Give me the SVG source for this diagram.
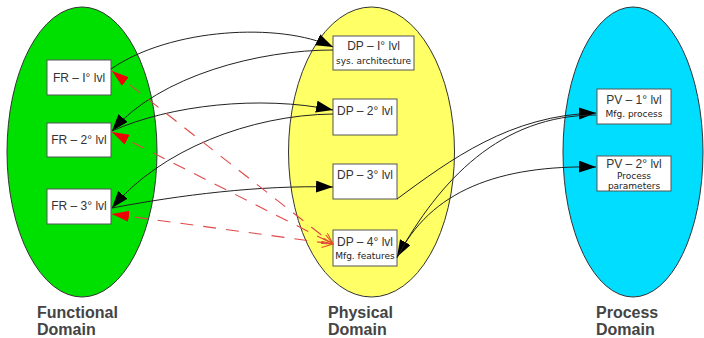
<svg xmlns="http://www.w3.org/2000/svg" width="704" height="338" viewBox="0 0 704 338">
<style>
.dom{stroke:#333;stroke-width:1}
.box{fill:#fff;stroke:#555;stroke-width:1}
.t{font-family:"Liberation Sans",Arial,sans-serif;font-size:12px;fill:#333;text-anchor:middle}
.s{font-family:"DejaVu Sans",sans-serif;font-size:9px;fill:#222;text-anchor:middle}
.lab{font-family:"Liberation Sans",Arial,sans-serif;font-size:16px;font-weight:bold;fill:#444}
.c{fill:none;stroke:#222;stroke-width:1}
.r{fill:none;stroke:#e04848;stroke-width:1.1;stroke-dasharray:13 10}
</style>
<defs>
<marker id="ah" markerUnits="userSpaceOnUse" markerWidth="20" markerHeight="14" refX="17" refY="6" orient="auto">
<path d="M0,0 L17,6 L0,12 Z" fill="#000"/>
</marker>
<marker id="rh" markerUnits="userSpaceOnUse" markerWidth="20" markerHeight="14" refX="17" refY="5.5" orient="auto-start-reverse">
<path d="M0,0 L17,5.5 L0,11 Z" fill="#f00000"/>
</marker>
<marker id="ro" markerUnits="userSpaceOnUse" markerWidth="14" markerHeight="12" refX="11" refY="5" orient="auto">
<path d="M0,0 L11,5 L0,10" fill="none" stroke="#e05020" stroke-width="1"/>
</marker>
</defs>
<rect width="704" height="338" fill="#fff"/>
<g id="functional-domain">
<ellipse class="dom" cx="82" cy="152" rx="75" ry="145" fill="#00e000"/>
<text class="lab" x="37" y="318">Functional</text>
<text class="lab" x="37" y="335">Domain</text>
</g>
<g id="physical-domain">
<ellipse class="dom" cx="371.5" cy="152" rx="83" ry="145" fill="#ffff66"/>
<text class="lab" x="328" y="318">Physical</text>
<text class="lab" x="328" y="335">Domain</text>
</g>
<g id="process-domain">
<ellipse class="dom" cx="633" cy="152" rx="70" ry="145" fill="#00ddff"/>
<text class="lab" x="596" y="318">Process</text>
<text class="lab" x="596" y="335">Domain</text>
</g>
<g id="fr1"><rect class="box" x="47" y="60" width="64" height="35"/><text class="t" x="79" y="82">FR – I° lvl</text></g>
<g id="fr2"><rect class="box" x="47" y="123" width="64" height="34"/><text class="t" x="79" y="144">FR – 2° lvl</text></g>
<g id="fr3"><rect class="box" x="47" y="189" width="64" height="35"/><text class="t" x="79" y="210">FR – 3° lvl</text></g>
<g id="dp1"><rect class="box" x="333" y="36" width="81" height="34"/><text class="t" x="373.5" y="50">DP – I° lvl</text><text class="s" x="373.5" y="64">sys. architecture</text></g>
<g id="dp2"><rect class="box" x="333" y="99" width="64" height="36"/><text class="t" x="365" y="115">DP – 2° lvl</text></g>
<g id="dp3"><rect class="box" x="333" y="164" width="64" height="35"/><text class="t" x="365" y="179">DP – 3° lvl</text></g>
<g id="dp4"><rect class="box" x="333" y="230" width="64" height="36"/><text class="t" x="365" y="246">DP – 4° lvl</text><text class="s" x="365" y="259">Mfg. features</text></g>
<g id="pv1"><rect class="box" x="597" y="89" width="74" height="35"/><text class="t" x="634" y="104">PV – 1° lvl</text><text class="s" x="634" y="117">Mfg. process</text></g>
<g id="pv2"><rect class="box" x="597" y="156" width="74" height="35"/><text class="t" x="634" y="168">PV – 2° lvl</text><text class="s" x="634" y="179">Process</text><text class="s" x="634" y="189">parameters</text></g>
<g id="connectors">
<path class="c" d="M111,69 C170,28 280,22 333,47" marker-end="url(#ah)"/>
<path class="c" d="M333,50 C260,50 160,75 112,131" marker-end="url(#ah)"/>
<path class="c" d="M112,131 C170,105 260,95 333,110" marker-end="url(#ah)"/>
<path class="c" d="M333,114 C250,115 160,150 112,208" marker-end="url(#ah)"/>
<path class="c" d="M112,208 C180,195 260,185 333,187" marker-end="url(#ah)"/>
<path class="c" d="M397,199 C450,160 510,115 596,113" marker-end="url(#ah)"/>
<path class="c" d="M596,115 C500,115 440,180 397,257" marker-end="url(#ah)"/>
<path class="c" d="M397,258 C430,190 500,165 596,167" marker-end="url(#ah)"/>
<path class="r" d="M112,71 L333,244" marker-start="url(#rh)" marker-end="url(#ro)"/>
<path class="r" d="M112,132 L333,244" marker-start="url(#rh)" marker-end="url(#ro)"/>
<path class="r" d="M112,214 L333,244" marker-start="url(#rh)" marker-end="url(#ro)"/>
</g>
</svg>
